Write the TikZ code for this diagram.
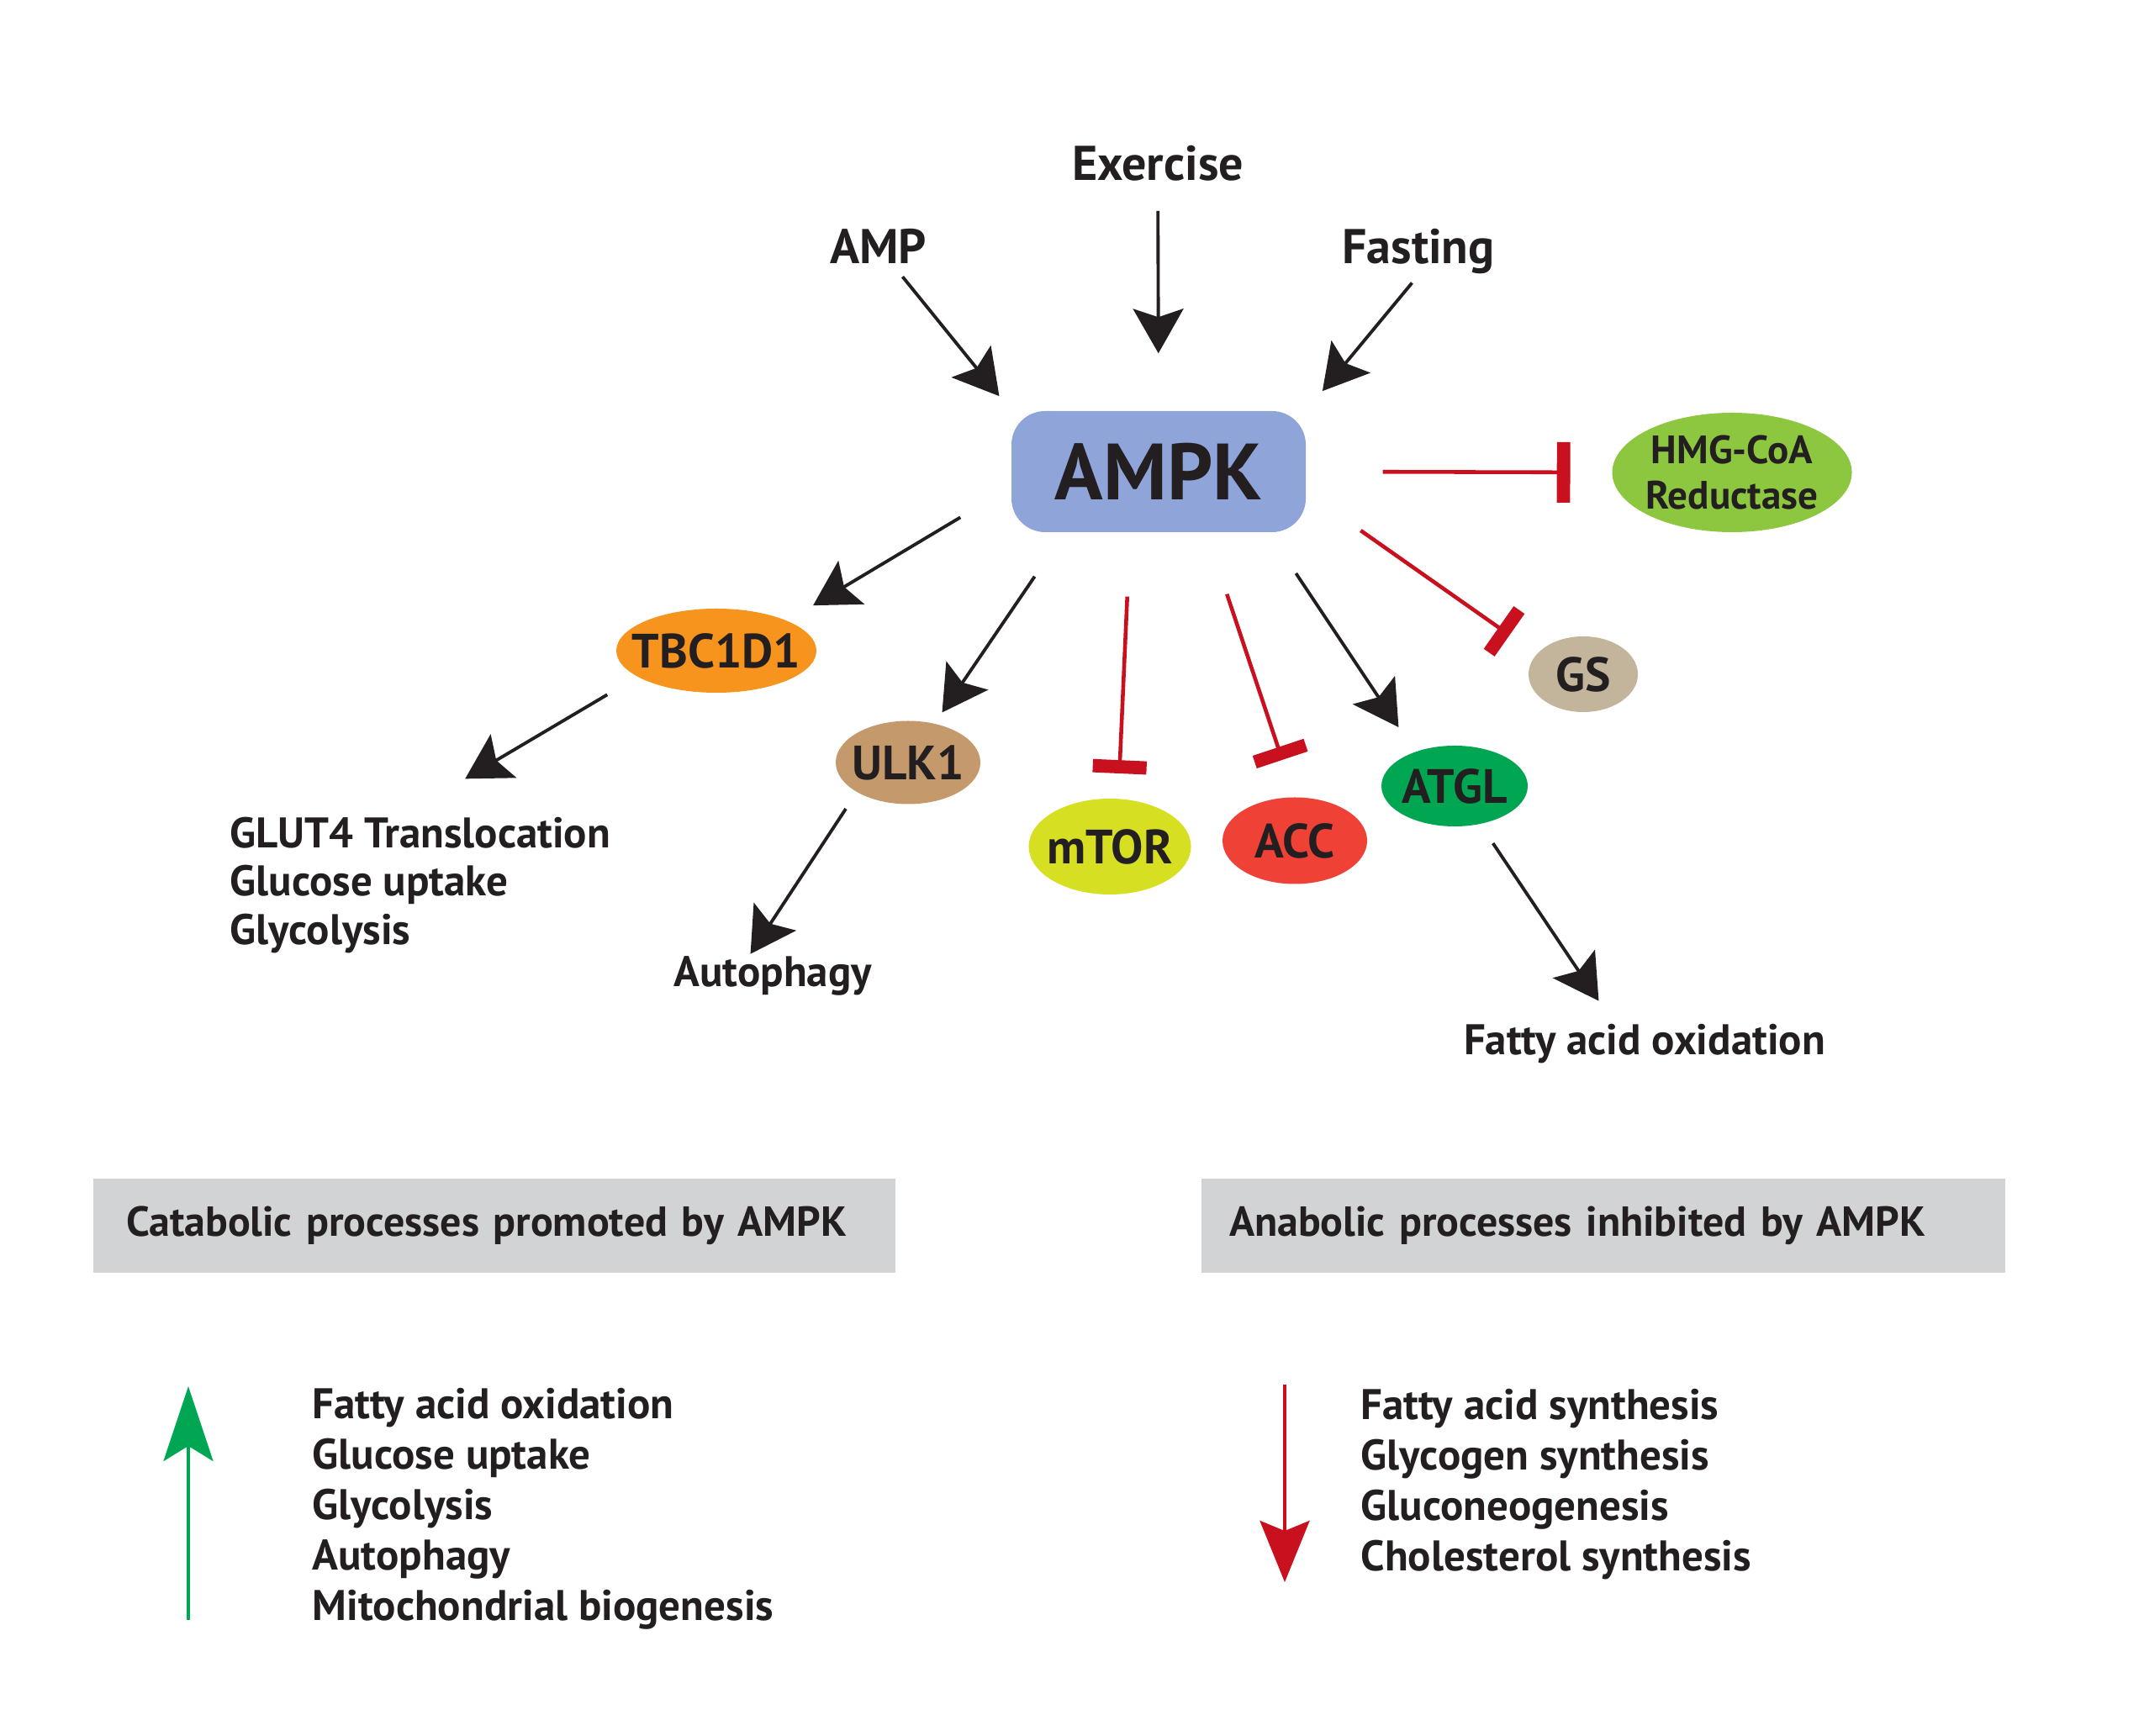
\documentclass[tikz,border=0pt]{standalone}
\usepackage{fontspec}
\setmainfont{PT Sans}
\usetikzlibrary{arrows.meta,shapes.geometric}
\definecolor{KinaseBlue}{HTML}{8FA4D8}
\definecolor{LeafGreen}{HTML}{8DC63F}
\definecolor{Sand}{HTML}{C2B59B}
\definecolor{Amber}{HTML}{F7941D}
\definecolor{Cocoa}{HTML}{C49A6C}
\definecolor{Lime}{HTML}{D7DF23}
\definecolor{Tomato}{HTML}{EF4136}
\definecolor{Emerald}{HTML}{00A651}
\definecolor{PanelGrey}{HTML}{D1D3D4}
\definecolor{BlockRed}{HTML}{C8101E}
\definecolor{Ink}{HTML}{231F20}

\begin{document}
\begin{tikzpicture}[
    protein/.style={ellipse,inner xsep=-2mm,inner ysep=0pt,outer sep=0pt,text=Ink,
                    font=\fontsize{16.3}{19}\selectfont\bfseries},
    stim/.style={inner sep=0pt,anchor=base,text=Ink,font=\fontsize{16.5}{19}\selectfont\bfseries},
    outcome/.style={inner sep=0pt,align=left,text=Ink,font=\fontsize{14.5}{17.07}\selectfont\bfseries},
    panel/.style={fill=PanelGrey,minimum height=1.12cm,inner ysep=0pt,align=left,text=Ink,
                  font=\fontsize{14.2}{17}\selectfont\bfseries},
    act/.style={line width=1.1pt,draw=Ink,-{Stealth[length=5.3mm,width=6mm,inset=1mm]}},
    block/.style={line width=1.3pt,draw=BlockRed,-{Bar[width=#1,line width=4.5pt]}},
    block/.default=6.4mm]
  \useasboundingbox (0,0) rectangle (25.5,20.64);

  \node[fill=KinaseBlue,rounded corners=4mm,minimum width=3.5cm,minimum height=1.44cm,inner sep=0pt,
        text=Ink,font=\fontsize{27}{32}\selectfont\bfseries] (ampk) at (13.78,15.03) {AMPK};

  \node[stim] (exercise) at (13.77,18.49) {Exercise};
  \node[stim] (amp) at (10.445,17.50) {AMP};
  \node[stim] (fasting) at (16.87,17.50) {Fasting};

  \node[protein,fill=LeafGreen,minimum width=2.85cm,minimum height=1.42cm,align=center,
        font=\fontsize{13.4}{15.2}\selectfont\bfseries] (hmg) at (20.60,15.02) {HMG-CoA\\Reductase};
  \node[protein,fill=Sand,minimum width=1.30cm,minimum height=0.90cm] (gs) at (18.83,12.62) {GS};
  \node[protein,fill=Amber,minimum width=2.38cm,minimum height=1.0cm] (tbc) at (8.52,12.90) {TBC1D1};
  \node[protein,fill=Cocoa,minimum width=1.72cm,minimum height=0.99cm] (ulk) at (10.80,11.57) {ULK1};
  \node[protein,fill=Lime,minimum width=1.93cm,minimum height=1.14cm] (mtor) at (13.20,10.57) {mTOR};
  \node[protein,fill=Tomato,minimum width=1.72cm,minimum height=1.03cm] (acc) at (15.40,10.64) {ACC};
  \node[protein,fill=Emerald,minimum width=1.74cm,minimum height=0.96cm] (atgl) at (17.30,11.29) {ATGL};

  \node[outcome,anchor=base west,font=\fontsize{14.5}{16.5}\selectfont\bfseries] (glut) at (2.73,9.40)
    {GLUT4 Translocation\\Glucose uptake\\Glycolysis};
  \node[outcome,anchor=base] (autophagy) at (9.19,8.90) {Autophagy};
  \node[outcome,anchor=base] (fao) at (19.56,8.09) {Fatty acid oxidation};

  \draw[act,shorten <=0.46cm,shorten >=0.22cm] (amp.center) -- (ampk.north west);
  \draw[act,shorten <=0.56cm,shorten >=0.68cm] (exercise.center) -- (ampk.north);
  \draw[act,shorten <=0.48cm,shorten >=0.30cm] ([xshift=2.3mm]fasting.center) -- (ampk.north east);

  \draw[block=7.2mm,shorten <=0.91cm,shorten >=0.50cm] (ampk.east) -- (hmg.west);
  \draw[block=6.2mm,shorten <=0.79cm,shorten >=1.07cm] (ampk.-8) -- ([yshift=-1.5mm]gs.center);
  \draw[block,shorten <=0.76cm,shorten >=0.30cm] (ampk.245) -- ([xshift=1mm]mtor.north);
  \draw[block,shorten <=0.77cm,shorten >=0.47cm] (ampk.-52) -- (acc.north);

  \draw[act,shorten <=0.70cm,shorten >=0.36cm] (ampk.186) -- (tbc.north east);
  \draw[act,shorten <=0.63cm,shorten >=0.72cm] (ampk.213) -- (ulk.center);
  \draw[act,shorten <=0.58cm,shorten >=0.84cm] (ampk.-29) -- ([xshift=-2mm]atgl.center);
  \draw[act,shorten <=0.53cm,shorten >=0.62cm] ([yshift=1mm]tbc.south west) -- ([yshift=1.3mm]glut.north);
  \draw[act,shorten <=0.24cm,shorten >=0.32cm] (ulk.south west) -- ([xshift=-4.4mm]autophagy.center);
  \draw[act,shorten <=0.82cm,shorten >=0.62cm] (atgl.center) -- ([xshift=-2mm]fao.center);

  \node[panel,minimum width=9.54cm,inner xsep=0.39cm,text width=8.76cm] (catpanel) at (5.88,6.06)
    {Catabolic processes promoted by AMPK};
  \node[panel,minimum width=9.56cm,inner xsep=0.33cm,text width=8.90cm] (anapanel) at (19.07,6.06)
    {Anabolic processes inhibited by AMPK};

  \node[outcome,anchor=base west] (catlist) at (3.71,1.37)
    {Fatty acid oxidation\\Glucose uptake\\Glycolysis\\Autophagy\\Mitochondrial biogenesis};
  \node[outcome,anchor=base west] (analist) at (16.18,1.96)
    {Fatty acid synthesis\\Glycogen synthesis\\Gluconeogenesis\\Cholesterol synthesis};

  \coordinate (uptail) at (2.24,1.37);
  \coordinate (uptip) at (2.24,4.15);
  \coordinate (downtail) at (15.28,4.17);
  \coordinate (downtip) at (15.28,1.82);
  \draw[line width=1.1pt,Emerald,-{Stealth[length=8.9mm,width=5.9mm,inset=1.8mm]}] (uptail) -- (uptip);
  \draw[line width=1.1pt,BlockRed,-{Stealth[length=7.3mm,width=5.9mm,inset=1.2mm]}] (downtail) -- (downtip);
\end{tikzpicture}
\end{document}
